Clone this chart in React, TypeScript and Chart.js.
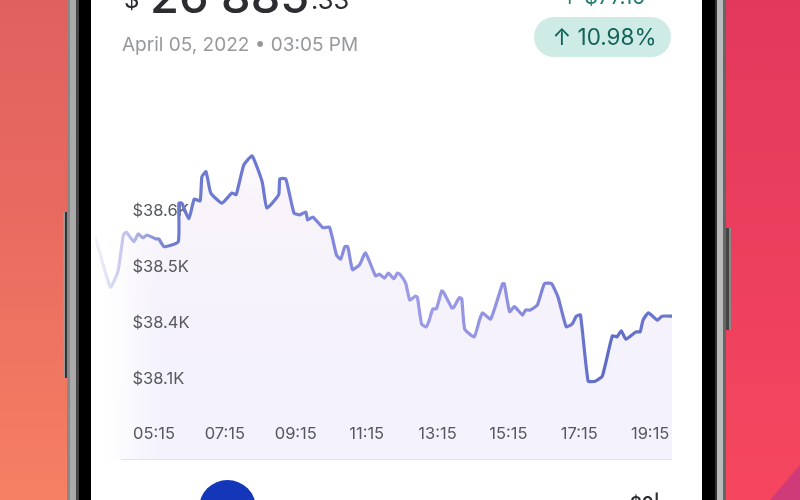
import React, { useEffect, useRef } from "react";
import { Chart, registerables } from "chart.js";

Chart.register(...registerables);

const minutes = [215,241,254,263,268,281,288,296,303,318,323,332,356,357,362,374,383,393,396,403,411,430,447,454,467,481,498,506,526,528,538,552,562,572,575,584,601,612,624,631,638,643,651,663,673,690,697,705,712,721,727,732,741,748,758,761,768,776,781,787,793,802,805,819,822,832,836,841,857,866,871,885,905,908,917,925,939,944,952,964,976,988,999,1013,1023,1030,1037,1050,1062,1074,1091,1099,1106,1114,1131,1138,1143,1152,1167,1175,1192];
const prices = [38554,38464,38493,38557,38562,38545,38559,38552,38557,38550,38550,38536,38545,38614,38614,38586,38621,38618,38661,38670,38632,38614,38632,38629,38682,38698,38652,38605,38629,38657,38657,38596,38593,38598,38584,38589,38570,38571,38521,38514,38536,38536,38495,38504,38525,38484,38487,38480,38489,38479,38489,38486,38471,38441,38448,38445,38398,38393,38405,38425,38425,38457,38455,38427,38427,38445,38443,38389,38375,38405,38418,38407,38470,38470,38420,38429,38414,38423,38423,38432,38470,38470,38446,38393,38398,38412,38414,38296,38296,38305,38377,38375,38386,38371,38384,38384,38405,38418,38405,38412,38412];
const xTickValues = [315,435,555,675,795,915,1035,1155];
const xTickLabels = ["05:15","07:15","09:15","11:15","13:15","15:15","17:15","19:15"];
const yTickValues = [38300,38400,38500,38600];
const yTickLabels = ["$38.1K","$38.4K","$38.5K","$38.6K"];

const FONT = "Inter, 'Noto Sans', sans-serif";

const abs = (s: React.CSSProperties): React.CSSProperties => ({ position: "absolute", ...s });

export default function App() {
  const ref = useRef<HTMLCanvasElement | null>(null);

  useEffect(() => {
    document.body.style.margin = "0";
    document.body.style.overflow = "hidden";
    const canvas = ref.current!;
    const ctx = canvas.getContext("2d")!;

    const stroke = ctx.createLinearGradient(95, 0, 672, 0);
    stroke.addColorStop(0, "rgba(110,120,210,0.08)");
    stroke.addColorStop(0.05, "rgba(110,120,210,0.4)");
    stroke.addColorStop(0.13, "#6c7bd0");
    stroke.addColorStop(0.3, "#6c78d2");
    stroke.addColorStop(0.55, "#9d9ce8");
    stroke.addColorStop(0.72, "#8f90e0");
    stroke.addColorStop(0.88, "#5f6cc6");
    stroke.addColorStop(1, "#6c78d2");

    const fillPlugin = {
      id: "areaFade",
      beforeDraw(c: Chart) {
        const { ctx: g, chartArea: a } = c;
        const v = g.createLinearGradient(0, 150, 0, a.bottom);
        v.addColorStop(0, "rgba(247,240,250,0)");
        v.addColorStop(0.15, "#f9f4f9");
        v.addColorStop(0.55, "#f5f2fc");
        v.addColorStop(1, "#f4f2fc");
        const meta = c.getDatasetMeta(0);
        g.save();
        g.beginPath();
        const pts = meta.data as any[];
        g.moveTo(pts[0].x, a.bottom);
        pts.forEach((p) => g.lineTo(p.x, p.y));
        g.lineTo(pts[pts.length - 1].x, a.bottom);
        g.closePath();
        g.fillStyle = v;
        g.fill();
        const h = g.createLinearGradient(a.left + 10, 0, a.left + 65, 0);
        h.addColorStop(0, "rgba(255,255,255,1)");
        h.addColorStop(1, "rgba(255,255,255,0)");
        g.fillStyle = h;
        g.fill();
        g.restore();
      },
    };

    const chart = new Chart(canvas, {
      type: "line",
      plugins: [fillPlugin],
      data: {
        datasets: [
          {
            data: minutes.map((m, i) => ({ x: m, y: prices[i] })),
            borderColor: stroke,
            borderWidth: 3.2,
            tension: 0.15,
            pointRadius: 0,
            fill: false,
          },
        ],
      },
      options: {
        animation: false,
        responsive: false,
        layout: { padding: { left: 95, right: 128, top: 100, bottom: 41 } },
        plugins: { legend: { display: false }, tooltip: { enabled: false } },
        scales: {
          x: {
            type: "linear",
            min: 215,
            max: 1192,
            grid: { display: false },
            border: { display: false },
            afterBuildTicks: (s: any) => {
              s.ticks = xTickValues.map((value) => ({ value }));
            },
            afterFit: (s: any) => {
              s.height = 0;
              s.paddingLeft = 0;
              s.paddingRight = 0;
            },
            ticks: {
              autoSkip: false,
              maxRotation: 0,
              mirror: true,
              padding: 15,
              color: "#55585c",
              font: { family: FONT, size: 16.5 },
              callback: (v: any) => xTickLabels[xTickValues.indexOf(Number(v))] ?? "",
            },
          },
          y: {
            type: "linear",
            min: 38157,
            max: 38798,
            grid: { display: false },
            border: { display: false },
            afterBuildTicks: (s: any) => {
              s.ticks = yTickValues.map((value) => ({ value }));
            },
            afterFit: (s: any) => {
              s.width = 0;
              s.paddingTop = 0;
              s.paddingBottom = 0;
            },
            ticks: {
              autoSkip: false,
              mirror: true,
              padding: 37.5,
              color: "#55585c",
              font: { family: FONT, size: 16.5 },
              callback: (v: any) => yTickLabels[yTickValues.indexOf(Number(v))] ?? "",
            },
          },
        },
      },
    });
    return () => chart.destroy();
  }, []);

  return (
    <div style={{ position: "relative", width: 800, height: 500, overflow: "hidden", fontFamily: FONT, background: "#fff" }}>
      <div style={abs({ left: 0, top: 0, width: 68, height: 500, background: "linear-gradient(180deg,#e0605f 0%,#e8695f 40%,#f58063 100%)" })} />
      <div style={abs({ left: 725, top: 0, width: 75, height: 500, background: "linear-gradient(180deg,#e2385c 0%,#ec3f5e 50%,#f6465f 100%)" })} />
      <div style={abs({ left: 770, top: 465, width: 30, height: 35, background: "#cf3a78", clipPath: "polygon(100% 0, 0 100%, 100% 100%)" })} />
      <div style={abs({ left: 63, top: 212, width: 5, height: 166, background: "linear-gradient(90deg,#999 0,#999 2px,#333 2px,#333 100%)" })} />
      <div style={abs({ left: 725, top: 228, width: 6, height: 102, background: "linear-gradient(90deg,#444 0,#444 4px,#888 4px,#888 100%)" })} />
      <div style={abs({ left: 67, top: 0, width: 24, height: 500, background: "linear-gradient(90deg,#888 0,#888 3px,#aaa 3px,#aaa 9px,#444 9px,#444 12px,#000 12px,#000 100%)" })} />
      <div style={abs({ left: 702, top: 0, width: 24, height: 500, background: "linear-gradient(90deg,#000 0,#000 13px,#333 13px,#333 15px,#bbb 15px,#bbb 21px,#666 21px,#666 100%)" })} />

      <canvas ref={ref} width={800} height={500} style={abs({ left: 0, top: 0, display: "block" })} />

      <div style={abs({ left: 124, top: -15, fontSize: 24, color: "#2b2d31", lineHeight: "30px" })}>$</div>
      <div style={abs({ left: 150, top: -31, fontSize: 47, fontWeight: 500, color: "#2b2d31", lineHeight: "54px", whiteSpace: "nowrap" })}>26 885</div>
      <div style={abs({ left: 311, top: -15, fontSize: 25.5, color: "#2b2d31", lineHeight: "30px" })}>.33</div>
      <div style={abs({ left: 122, top: 33, fontSize: 19, color: "#96999c", lineHeight: "24px", whiteSpace: "nowrap" })}>April 05, 2022 • 03:05 PM</div>
      <div style={abs({ left: 561, top: -15, fontSize: 21, color: "#1f7f70", lineHeight: "24px", whiteSpace: "nowrap" })}>↑ $77.15</div>
      <div style={abs({ left: 536, top: 17, width: 137, height: 40, color: "#14635a", fontSize: 22.5, lineHeight: "40px", textAlign: "center", whiteSpace: "nowrap", zIndex: 1 })}>↑ 10.98%</div>
      <div style={abs({ left: 534, top: 17, width: 137, height: 40, borderRadius: 20, background: "#cfebe6" })} />
      <div style={abs({ left: 121, top: 459, width: 551, height: 1, background: "#e3e3e6" })} />
      <div style={abs({ left: 199, top: 480, width: 57, height: 57, borderRadius: "50%", background: "#1436b8" })} />
      <div style={abs({ left: 630, top: 494, fontSize: 18, fontWeight: 600, color: "#2b2d31", lineHeight: "20px" })}>$0|</div>
    </div>
  );
}
